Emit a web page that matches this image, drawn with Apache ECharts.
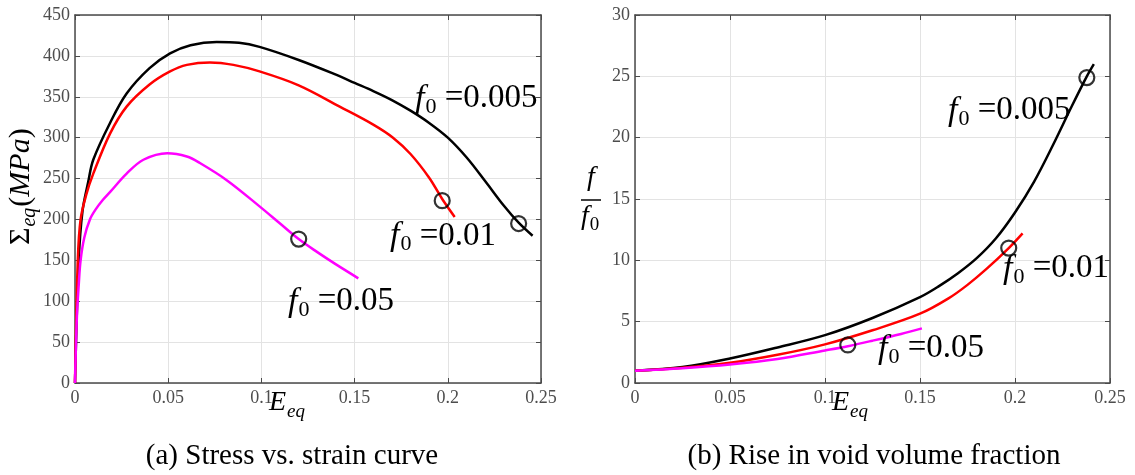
<!DOCTYPE html>
<html><head><meta charset="utf-8">
<script src="https://cdn.jsdelivr.net/npm/echarts@6/dist/echarts.min.js"></script>
<style>html,body{margin:0;padding:0;background:#fff}#c{width:1135px;height:475px}</style>
</head><body><div id="c"></div>
<script>
// ---------- data: (a) stress vs strain ----------
const strainA_005 = [0, 0.002, 0.004, 0.0071, 0.0098, 0.0188, 0.0277, 0.04, 0.051, 0.062, 0.076, 0.088, 0.099, 0.12, 0.14, 0.15, 0.16, 0.17, 0.18, 0.19, 0.2, 0.21, 0.22, 0.23, 0.238, 0.2455];
const stressA_005 = [0, 150, 210, 246, 273, 318, 354, 385, 403, 413, 417, 416, 411, 395, 377, 367, 357, 346, 333, 318, 300, 276, 247, 217, 196, 180];
const strainA_01 = [0, 0.0015, 0.003, 0.006, 0.0098, 0.0188, 0.0277, 0.04, 0.051, 0.06, 0.0724, 0.085, 0.099, 0.12, 0.142, 0.16, 0.1706, 0.18, 0.19, 0.197, 0.2037];
const stressA_01 = [0, 150, 200, 230, 256, 305, 338, 365, 381, 389, 392, 389, 381, 364, 338, 316, 300, 280, 251, 225, 203];
const strainA_05 = [0, 0.001, 0.002, 0.003, 0.005, 0.008, 0.011, 0.015, 0.019, 0.0277, 0.0367, 0.0495, 0.06, 0.067, 0.0814, 0.099, 0.11, 0.12, 0.13, 0.14, 0.152];
const stressA_05 = [0, 80, 120, 150, 178, 200, 212, 224, 234, 256, 273, 281, 277, 269, 248, 216, 195, 176, 160, 145, 128];
const failA_strain = [0.12, 0.197, 0.238];
const failA_stress = [176, 223, 195];

// ---------- data: (b) void volume fraction ----------
const strainB_005 = [0, 0.025, 0.05, 0.075, 0.1, 0.125, 0.15, 0.16, 0.17, 0.18, 0.19, 0.2, 0.21, 0.22, 0.23, 0.2378, 0.2415];
const ratioB_005 = [1, 1.3, 2.0, 2.9, 3.9, 5.3, 7.0, 7.9, 8.95, 10.2, 11.8, 13.9, 16.4, 19.4, 22.6, 25.0, 26.0];
const strainB_01 = [0, 0.025, 0.05, 0.075, 0.1, 0.125, 0.15, 0.165, 0.175, 0.185, 0.1967, 0.204];
const ratioB_01 = [1, 1.25, 1.65, 2.3, 3.15, 4.3, 5.65, 6.9, 8.0, 9.3, 11.0, 12.2];
const strainB_05 = [0, 0.025, 0.05, 0.075, 0.1, 0.112, 0.125, 0.14, 0.151];
const ratioB_05 = [1, 1.2, 1.5, 1.95, 2.65, 3.0, 3.45, 4.0, 4.45];
const failB_strain = [0.112, 0.1967, 0.2378];
const failB_ratio = [3.1, 11.0, 24.9];

// ---------- labels ----------
const f0Values = ['0.005', '0.01', '0.05'];
const labelA_x = [0.1824, 0.169, 0.1143];
const labelA_y = [346, 178, 98];
const labelB_x = [0.1647, 0.1937, 0.1279];
const labelB_y = [22.1, 9.2, 2.7];
const xTickLabels = ['0', '0.05', '0.1', '0.15', '0.2', '0.25'];
const captions = ['(a) Stress vs. strain curve', '(b) Rise in void volume fraction'];

const zip = (a, b) => a.map((v, i) => [v, b[i]]);
const SERIF = '"Liberation Serif", "DejaVu Serif", serif';
const GRID_C = '#e3e3e3', AX_C = '#4a4a4a', TXT_C = '#4d4d4d';

function axesX(gi) {
  return [
    { gridIndex: gi, type: 'value', min: 0, max: 0.25, interval: 0.05, position: 'bottom',
      axisLine: { show: true, onZero: false, lineStyle: { color: AX_C, width: 1.5 } },
      axisTick: { show: true, inside: true, length: 5, lineStyle: { color: AX_C } },
      axisLabel: { color: TXT_C, fontFamily: SERIF, fontSize: 18, margin: 6,
        formatter: v => xTickLabels[Math.round(v / 0.05)] },
      splitLine: { show: true, lineStyle: { color: GRID_C, width: 1 } } },
    { gridIndex: gi, type: 'value', min: 0, max: 0.25, interval: 0.05, position: 'top',
      axisLine: { show: true, onZero: false, lineStyle: { color: AX_C, width: 1.5 } },
      axisTick: { show: true, inside: true, length: 5, lineStyle: { color: AX_C } },
      axisLabel: { show: false }, splitLine: { show: false } }
  ];
}
function axesY(gi, max, interval) {
  return [
    { gridIndex: gi, type: 'value', min: 0, max: max, interval: interval, position: 'left',
      axisLine: { show: true, onZero: false, lineStyle: { color: AX_C, width: 1.5 } },
      axisTick: { show: true, inside: true, length: 5, lineStyle: { color: AX_C } },
      axisLabel: { color: TXT_C, fontFamily: SERIF, fontSize: 18, margin: 5 },
      splitLine: { show: true, lineStyle: { color: GRID_C, width: 1 } } },
    { gridIndex: gi, type: 'value', min: 0, max: max, interval: interval, position: 'right',
      axisLine: { show: true, onZero: false, lineStyle: { color: AX_C, width: 1.5 } },
      axisTick: { show: true, inside: true, length: 5, lineStyle: { color: AX_C } },
      axisLabel: { show: false }, splitLine: { show: false } }
  ];
}

function curve(xi, yi, data, color) {
  return { type: 'line', xAxisIndex: xi, yAxisIndex: yi, data: data, showSymbol: false,
    smooth: 0.35, silent: true, z: 3,
    lineStyle: { color: color, width: 2.5 } };
}
function circles(xi, yi, data) {
  return { type: 'scatter', xAxisIndex: xi, yAxisIndex: yi, data: data, symbol: 'circle',
    symbolSize: 15, silent: true, z: 5,
    itemStyle: { color: 'rgba(0,0,0,0)', borderColor: '#000', borderWidth: 2.2 } };
}
const labRich = {
  f: { fontFamily: SERIF, fontStyle: 'italic', fontSize: 34, color: '#000', lineHeight: 36, verticalAlign: 'top' },
  s: { fontFamily: SERIF, fontSize: 22, color: '#000', lineHeight: 21, padding: [14, 0, 0, 1], verticalAlign: 'top' },
  n: { fontFamily: SERIF, fontSize: 33, color: '#000', lineHeight: 36, verticalAlign: 'top' }
};
const subRich = (size, sub) => ({
  m: { fontFamily: SERIF, fontSize: size, lineHeight: size + 4, verticalAlign: 'top', fill: '#000' },
  i: { fontFamily: SERIF, fontStyle: 'italic', fontSize: size, lineHeight: size + 4, verticalAlign: 'top', fill: '#000' },
  s: { fontFamily: SERIF, fontStyle: 'italic', fontSize: sub, lineHeight: sub, padding: [Math.round(size * 0.45), 1, 0, 1], verticalAlign: 'top', fill: '#000' },
  u: { fontFamily: SERIF, fontSize: sub, lineHeight: sub, padding: [Math.round(size * 0.45), 1, 0, 1], verticalAlign: 'top', fill: '#000' }
});
function labels(xi, yi, xs, ys) {
  return { type: 'scatter', xAxisIndex: xi, yAxisIndex: yi, symbolSize: 0, silent: true, z: 6,
    itemStyle: { color: '#000' },
    data: xs.map((x, i) => ({ value: [x, ys[i]], name: f0Values[i] })),
    label: { show: true, position: 'right', distance: 0, color: '#000', opacity: 1,
      textBorderWidth: 0,
      formatter: p => '{f|f}{s|0}{n| =' + p.name + '}', rich: labRich } };
}

const option = {
  animation: false,
  backgroundColor: '#fff',
  grid: [
    { left: 75, top: 15, width: 466, height: 368 },
    { left: 635, top: 15, width: 475, height: 368 }
  ],
  xAxis: [...axesX(0), ...axesX(1)],
  yAxis: [...axesY(0, 450, 50), ...axesY(1, 30, 5)],
  series: [
    curve(0, 0, zip(strainA_005, stressA_005), '#000000'),
    curve(0, 0, zip(strainA_01, stressA_01), '#ff0000'),
    curve(0, 0, zip(strainA_05, stressA_05), '#ff00ff'),
    circles(0, 0, zip(failA_strain, failA_stress)),
    labels(0, 0, labelA_x, labelA_y),
    curve(2, 2, zip(strainB_005, ratioB_005), '#000000'),
    curve(2, 2, zip(strainB_01, ratioB_01), '#ff0000'),
    curve(2, 2, zip(strainB_05, ratioB_05), '#ff00ff'),
    circles(2, 2, zip(failB_strain, failB_ratio)),
    labels(2, 2, labelB_x, labelB_y)
  ],
  graphic: [
    // y-axis name (a)
    { type: 'text', x: 6, y: 245, rotation: Math.PI / 2, silent: true,
      style: { text: '{m|Σ}{s|eq}{m|(}{i|MPa}{m|)}', fill: '#000', rich: subRich(30, 20) } },
    // y-axis name (b): f / f0
    { type: 'text', x: 591, y: 178, silent: true,
      style: { text: 'f', fontFamily: SERIF, fontStyle: 'italic', fontSize: 28, fill: '#000', align: 'center', verticalAlign: 'middle' } },
    { type: 'line', silent: true, shape: { x1: 581, y1: 200, x2: 601, y2: 200 }, style: { stroke: '#000', lineWidth: 1.5 } },
    { type: 'text', x: 581, y: 203, silent: true,
      style: { text: '{i|f}{u|0}', rich: subRich(28, 19) } },
    // x-axis names
    { type: 'text', x: 269, y: 389, silent: true,
      style: { text: '{i|E}{s|eq}', rich: subRich(28, 19) } },
    { type: 'text', x: 832, y: 389, silent: true,
      style: { text: '{i|E}{s|eq}', rich: subRich(28, 19) } },
    // captions
    { type: 'text', x: 292, y: 456, silent: true,
      style: { text: captions[0], fontFamily: SERIF, fontSize: 29, fill: '#000', align: 'center', verticalAlign: 'middle' } },
    { type: 'text', x: 874, y: 456, silent: true,
      style: { text: captions[1], fontFamily: SERIF, fontSize: 29, fill: '#000', align: 'center', verticalAlign: 'middle' } }
  ]
};
const chart = echarts.init(document.getElementById('c'), null, { renderer: 'canvas' });
chart.setOption(option);
</script>
</body></html>
